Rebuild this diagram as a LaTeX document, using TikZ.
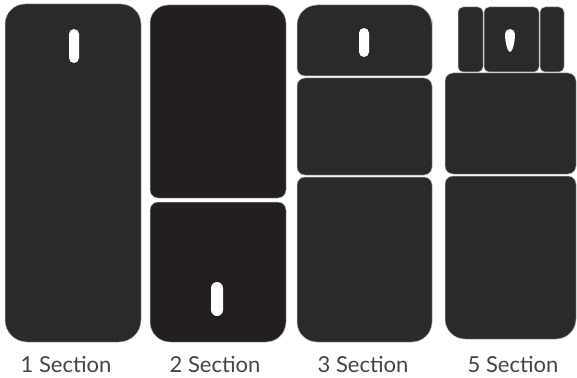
\documentclass[tikz,border=0pt]{standalone}
\usepackage{fontspec}
\setmainfont{Lato}
\usepackage{xcolor}
\usepackage{tikz}
\usetikzlibrary{positioning}

\definecolor{panelgray}{HTML}{2A2A2A}
\definecolor{panelwarm}{HTML}{231F20}
\definecolor{labelgray}{HTML}{444444}

\begin{document}
\begin{tikzpicture}[
  x=1pt, y=-1pt,
  panel/.style={fill=panelgray, draw=gray!55, line width=0.5pt},
  panel2/.style={panel, fill=panelwarm},
  slot/.style={fill=white, rounded corners=5},
  seclabel/.style={font=\fontsize{22}{26}\selectfont, text=labelgray, anchor=base, inner sep=0pt},
]
\useasboundingbox (0,0) rectangle (577,377);

% ===== 1 Section =====
\path[panel] (5,173) [rounded corners=20] |- (73,4) -| (141,173)
  [rounded corners=22] |- (73,342) -| (5,173) -- cycle;
\fill[slot] (69,29) rectangle (79,63);

% ===== 2 Section =====
\path[panel2] (150,100) [rounded corners=18] |- (218,5) -| (286,100)
  [rounded corners=8] |- (218,198) -| (150,100) -- cycle;
\path[panel2] (150,270) [rounded corners=8] |- (218,202) -| (286,270)
  [rounded corners=20] |- (218,342) -| (150,270) -- cycle;
\fill[slot, rounded corners=6] (211,282) rectangle (223,316);

% ===== 3 Section =====
\path[panel] (297,40) [rounded corners=20] |- (364,5) -| (432,40)
  [rounded corners=8] |- (364,76) -| (297,40) -- cycle;
\path[panel, rounded corners=8] (297,78) rectangle (432,175);
\path[panel] (297,260) [rounded corners=8] |- (364,177) -| (432,260)
  [rounded corners=20] |- (364,342) -| (297,260) -- cycle;
\fill[slot] (359,28) rectangle (369,57);

% ===== 5 Section =====
\path[panel, rounded corners=5] (458,7) rectangle (483,72);
\path[panel, rounded corners=5] (484,7) rectangle (539,72);
\path[panel, rounded corners=5] (540,7) rectangle (564,72);
\fill[white] (505,34) arc[start angle=180, end angle=360, radius=5]
  .. controls (515,42) and (512.5,52) .. (510,52)
  .. controls (507.5,52) and (505,42) .. (505,34) -- cycle;
\path[panel, rounded corners=8] (445,73) rectangle (576,174);
\path[panel] (445,255) [rounded corners=8] |- (510,176) -| (576,255)
  [rounded corners=20] |- (510,339) -| (445,255) -- cycle;

% ===== labels =====
\node[seclabel] (lab1) at (66,372) {1 Section};
\node[seclabel] (lab2) at (215,372) {2 Section};
\node[seclabel] (lab3) at (363,372) {3 Section};
\node[seclabel] (lab5) at (513,372) {5 Section};

\end{tikzpicture}
\end{document}
